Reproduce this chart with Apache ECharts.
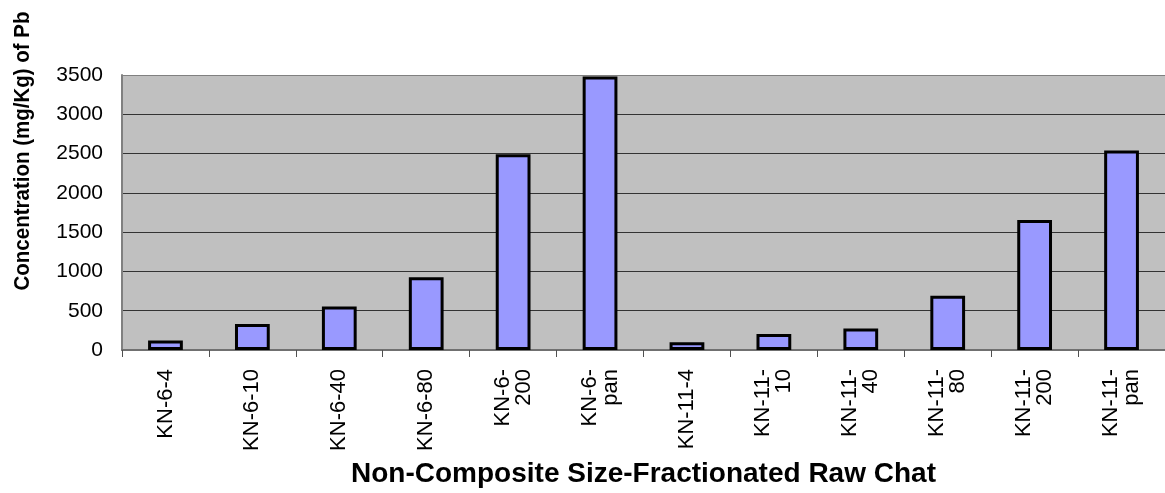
<!DOCTYPE html>
<html>
<head>
<meta charset="utf-8">
<script src="https://cdn.jsdelivr.net/npm/echarts@6/dist/echarts.min.js"></script>
<style>
html,body{margin:0;padding:0;background:#fff;}
#chart{width:1165px;height:493px;}
</style>
</head>
<body>
<div id="chart"></div>
<script>
const categories = ['KN-6-4','KN-6-10','KN-6-40','KN-6-80','KN-6-\n200','KN-6-\npan',
                    'KN-11-4','KN-11-\n10','KN-11-\n40','KN-11-\n80','KN-11-\n200','KN-11-\npan'];
const pbValues = [120, 330, 555, 925, 2490, 3480, 100, 205, 275, 690, 1655, 2540];
const yTicks = {min: 0, max: 3500, interval: 500};
const xTitle = 'Non-Composite Size-Fractionated Raw Chat';
const yTitle = 'Concentration (mg/Kg) of Pb';

const FONT = 'Arial, "Liberation Sans", sans-serif';
const chart = echarts.init(document.getElementById('chart'), null, {renderer: 'canvas'});
chart.setOption({
  animation: false,
  backgroundColor: '#ffffff',
  grid: {
    left: 122, right: -9, top: 75, bottom: 142.5,
    show: true, backgroundColor: '#c0c0c0', borderWidth: 0
  },
  xAxis: {
    type: 'category',
    data: categories,
    name: xTitle,
    nameLocation: 'middle',
    nameGap: 110,
    nameTextStyle: {fontFamily: FONT, fontSize: 28, fontWeight: 'bold', color: '#000'},
    axisLine: {show: true, lineStyle: {color: '#707070', width: 2}},
    axisTick: {show: true, length: 7, lineStyle: {color: '#505050', width: 1}},
    axisLabel: {
      rotate: 90, margin: 19, interval: 0,
      fontFamily: FONT, fontSize: 22, color: '#000', lineHeight: 21
    },
    splitLine: {show: false}
  },
  yAxis: {
    type: 'value',
    min: yTicks.min, max: yTicks.max, interval: yTicks.interval,
    axisLine: {show: true, lineStyle: {color: '#808080', width: 2}},
    axisTick: {show: false},
    axisLabel: {margin: 19, fontFamily: FONT, fontSize: 21, color: '#000',
      formatter: function (v) { return String(v); }},
    splitLine: {
      show: true,
      lineStyle: {color: ['#333','#333','#333','#333','#333','#333','#333','#808080'], width: 1.2}
    }
  },
  graphic: [{
    type: 'text',
    x: 23, y: 151,
    rotation: Math.PI / 2,
    scaleY: 1.1,
    style: {
      text: yTitle,
      fontFamily: FONT, fontSize: 20.5, fontWeight: 'bold', fill: '#000',
      align: 'center', verticalAlign: 'middle'
    }
  }],
  series: [{
    type: 'bar',
    data: pbValues,
    barWidth: '40%',
    itemStyle: {color: '#9999ff', borderColor: '#000', borderWidth: 3}
  }]
});
</script>
</body>
</html>
